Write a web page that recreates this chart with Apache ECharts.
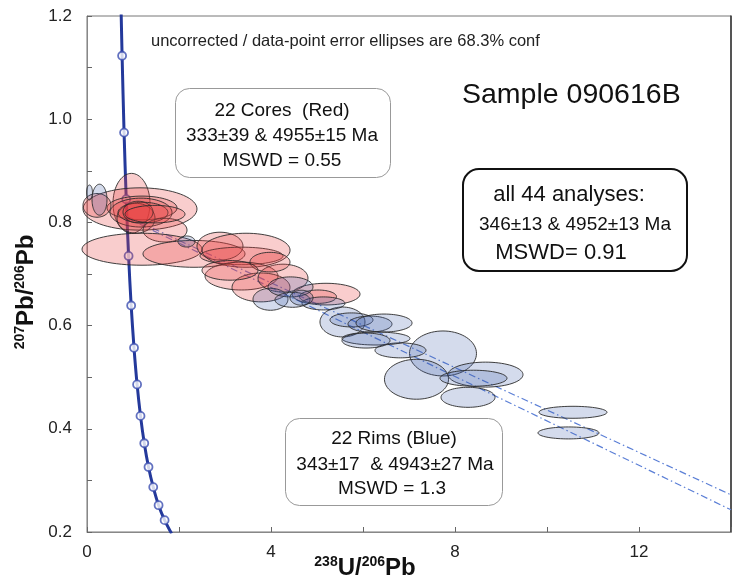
<!DOCTYPE html>
<html><head><meta charset="utf-8">
<script src="https://cdn.jsdelivr.net/npm/echarts@6/dist/echarts.min.js"></script>
<style>html,body{margin:0;padding:0;background:#fff}#c{width:738px;height:579px}</style>
</head><body><div id="c"></div>
<script>
// Concordia curve points (ages in Ma)
const concordiaAges = [5500,5400,5200,5000,4800,4600,4400,4200,4000,3800,3600,3400,3200,3000,2800];
const concordiaX = [0.742,0.763,0.806,0.853,0.904,0.960,1.022,1.089,1.163,1.245,1.337,1.440,1.556,1.687,1.838];
const concordiaY = [1.207,1.123,0.974,0.845,0.735,0.639,0.557,0.486,0.425,0.372,0.326,0.287,0.252,0.223,0.197];

// Discordia regression lines (dash-dot)
const discordiaAX = [0.86, 14];
const discordiaAY = [0.812, 0.272];
const discordiaBX = [0.86, 14];
const discordiaBY = [0.809, 0.243];

// Cores (red) ellipses: centre x, centre y, semi-axis x, semi-axis y
const coresX  = [0.967,1.152,1.196,1.174,1.065,1.217,1.109,1.696,1.196,2.326,2.891,3.359,3.457,3.359,3.783,4.261,5.196,5.022,0.217,1.478,3.978,3.109];
const coresY  = [0.837,0.826,0.828,0.819,0.808,0.819,0.820,0.785,0.748,0.739,0.754,0.735,0.746,0.696,0.674,0.692,0.661,0.656,0.833,0.816,0.723,0.707];
const coresSx = [0.402,1.239,0.761,0.674,0.413,0.543,0.326,0.478,1.304,1.109,0.500,0.902,0.957,0.793,0.630,0.543,0.739,0.402,0.304,0.652,0.435,0.609];
const coresSy = [0.058,0.041,0.023,0.028,0.029,0.020,0.021,0.023,0.031,0.026,0.027,0.017,0.033,0.027,0.028,0.027,0.021,0.013,0.023,0.017,0.019,0.019];

// Rims (blue) ellipses
const rimsX  = [7.739,7.163,8.663,8.402,8.283,6.815,5.554,5.750,6.152,6.457,6.283,6.065,10.565,10.467,5.141,3.989,4.424,4.467,4.663,0.272,0.054,2.163];
const rimsY  = [0.546,0.496,0.505,0.498,0.461,0.552,0.607,0.611,0.603,0.605,0.575,0.571,0.432,0.392,0.643,0.651,0.675,0.650,0.654,0.844,0.858,0.763];
const rimsSx = [0.728,0.696,0.815,0.728,0.587,0.554,0.489,0.467,0.478,0.609,0.739,0.522,0.739,0.663,0.467,0.380,0.489,0.380,0.250,0.163,0.065,0.185];
const rimsSy = [0.0436,0.0387,0.0242,0.0155,0.0194,0.0145,0.029,0.0136,0.0155,0.0174,0.0126,0.0145,0.0116,0.0116,0.0126,0.0213,0.0194,0.0145,0.0145,0.030,0.0145,0.0107];

const xTickLabels = [0,4,8,12];
const yTickLabels = [0.2,0.4,0.6,0.8,1.0,1.2];

const FONT = '"Liberation Sans", Arial, Helvetica, sans-serif';

function pairs(xs, ys){ return xs.map((x,i)=>[x, ys[i]]); }
function ellData(xs, ys, sx, sy){ return xs.map((x,i)=>[x, ys[i], sx[i], sy[i]]); }

function makeRender(fill){
  return function(params, api){
    const c = api.coord([api.value(0), api.value(1)]);
    const s = api.size([api.value(2), api.value(3)]);
    const pts = [];
    const n = 72;
    for (let k=0;k<n;k++){
      const t = k/n*2*Math.PI;
      pts.push([c[0]+s[0]*Math.cos(t), c[1]+s[1]*Math.sin(t)]);
    }
    return {type:'polygon', shape:{points:pts},
      style:{fill:fill, stroke:'#2a2a2a', lineWidth:0.9}};
  };
}

function txt(x, y, s, size){
  return {type:'text', x:x, y:y, z:11, style:{text:s, font:size+'px '+FONT, fill:'#111', align:'center', verticalAlign:'middle'}};
}
const richTitle = {
  s:{fontSize:14, fontWeight:'bold', fontFamily:FONT, fill:'#111', lineHeight:26, verticalAlign:'top'},
  b:{fontSize:24, fontWeight:'bold', fontFamily:FONT, fill:'#111', lineHeight:26}
};

const chart = echarts.init(document.getElementById('c'), null, {renderer:'canvas'});
const option = {
  animation:false,
  backgroundColor:'#fff',
  grid:{left:87, right:7, top:16, bottom:47, show:true, borderColor:'#777', borderWidth:1, backgroundColor:'transparent'},
  xAxis:{type:'value', min:0, max:14, interval:2,
    axisLine:{show:true, lineStyle:{color:'#888'}},
    axisTick:{show:true, inside:true, length:5, lineStyle:{color:'#666'}},
    splitLine:{show:false},
    axisLabel:{fontFamily:FONT, fontSize:17, color:'#222', margin:12,
      formatter:v=> xTickLabels.indexOf(Math.round(v))>=0 ? String(Math.round(v)) : ''}
  },
  yAxis:[{type:'value', min:0.2, max:1.2, interval:0.1,
    axisLine:{show:true, lineStyle:{color:'#888'}},
    axisTick:{show:true, inside:true, length:5, lineStyle:{color:'#666'}},
    splitLine:{show:false},
    axisLabel:{fontFamily:FONT, fontSize:17, color:'#222', margin:15,
      formatter:v=> {const r=Math.round(v*10)/10; return yTickLabels.some(t=>Math.abs(t-r)<1e-6) ? r.toFixed(1) : '';}}
  },{type:'value', position:'right', min:0.2, max:1.2, interval:0.1,
    axisLine:{show:true, onZero:false, lineStyle:{color:'#333', width:1.5}},
    axisTick:{show:false}, axisLabel:{show:false}, splitLine:{show:false}
  }],
  series:[
    {type:'line', name:'concordia', data:pairs(concordiaX, concordiaY), smooth:0.3, showSymbol:false, symbol:'none',
      lineStyle:{color:'#24399b', width:3}, z:1, clip:true, silent:true},
    {type:'scatter', name:'ages', data:pairs(concordiaX.slice(1,-1), concordiaY.slice(1,-1)), symbol:'circle', symbolSize:8,
      itemStyle:{color:'#fff', borderColor:'#3b4db0', borderWidth:1.8}, z:2, silent:true},
    {type:'line', name:'discA', data:pairs(discordiaAX, discordiaAY), showSymbol:false, symbol:'none',
      lineStyle:{color:'#5b7fd6', width:1.2, type:[7,3,1.5,3]}, z:3, silent:true},
    {type:'line', name:'discB', data:pairs(discordiaBX, discordiaBY), showSymbol:false, symbol:'none',
      lineStyle:{color:'#5b7fd6', width:1.2, type:[7,3,1.5,3]}, z:3, silent:true},
    {type:'custom', name:'cores', data:ellData(coresX, coresY, coresSx, coresSy), encode:{x:0,y:1},
      renderItem:makeRender('rgba(230,60,60,0.26)'), z:4, silent:true},
    {type:'custom', name:'rims', data:ellData(rimsX, rimsY, rimsSx, rimsSy), encode:{x:0,y:1},
      renderItem:makeRender('rgba(60,90,170,0.22)'), z:5, silent:true}
  ],
  graphic:[
    {type:'text', x:151, y:41, z:10, style:{text:'uncorrected / data-point error ellipses are 68.3% conf', font:'16.5px '+FONT, fill:'#222', verticalAlign:'middle'}},
    {type:'text', x:462, y:95, z:10, style:{text:'Sample 090616B', font:'28.5px '+FONT, fill:'#111', verticalAlign:'middle'}},
    {type:'rect', left:175, top:88, z:10, shape:{width:215, height:89, r:14}, style:{fill:'#fff', stroke:'#999', lineWidth:1}},
    txt(282, 111, '22 Cores  (Red)', 19),
    txt(282, 136, '333±39 & 4955±15 Ma', 19),
    txt(282, 161, 'MSWD = 0.55', 19),
    {type:'rect', left:462, top:168, z:10, shape:{width:224, height:102, r:16}, style:{fill:'#fff', stroke:'#111', lineWidth:2}},
    txt(569, 195, 'all 44 analyses:', 22),
    txt(575, 225, '346±13 & 4952±13 Ma', 19),
    txt(561, 253, 'MSWD= 0.91', 22),
    {type:'rect', left:285, top:418, z:10, shape:{width:217, height:87, r:14}, style:{fill:'#fff', stroke:'#999', lineWidth:1}},
    txt(394, 439, '22 Rims (Blue)', 19),
    txt(395, 465, '343±17  & 4943±27 Ma', 19),
    txt(392, 489, 'MSWD = 1.3', 19),
    {type:'text', x:26, y:292, rotation:Math.PI/2, z:11, style:{
      text:'{s|207}{b|Pb/}{s|206}{b|Pb}', align:'center', verticalAlign:'middle', rich:richTitle}},
    {type:'text', x:365, y:568, z:11, style:{
      text:'{s|238}{b|U/}{s|206}{b|Pb}', align:'center', verticalAlign:'middle', rich:richTitle}}
  ]
};
chart.setOption(option);
</script></body></html>
